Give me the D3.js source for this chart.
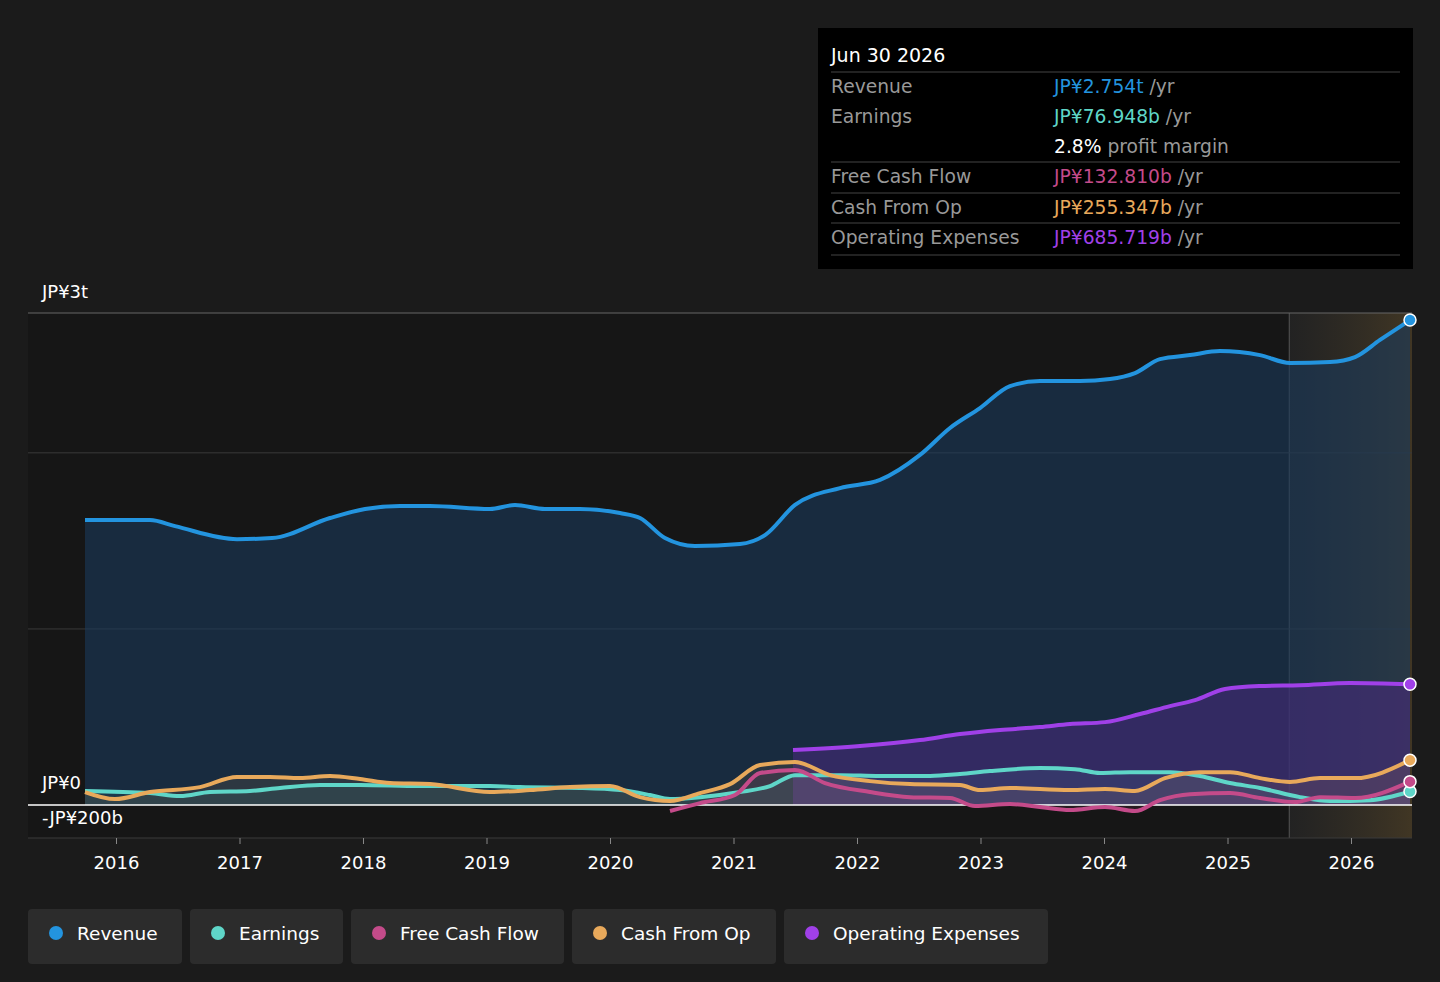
<!DOCTYPE html>
<html><head><meta charset="utf-8">
<script src="https://cdn.jsdelivr.net/npm/d3@7"></script>
<style>body{margin:0;background:#1b1b1b;font-family:"DejaVu Sans",sans-serif}</style>
</head><body><svg id="c" width="1440" height="982"></svg>
<script>
const revenue=[[85,1618],[150,1618],[175,1584],[237,1510],[272,1516],[330,1630],[365,1681],[400,1698],[430,1698],[490,1681],[515,1704],[545,1681],[580,1681],[620,1658],[640,1630],[665,1516],[695,1471],[740,1482],[765,1533],[795,1704],[840,1800],[880,1846],[920,1988],[950,2141],[980,2254],[1010,2379],[1040,2408],[1080,2408],[1110,2419],[1135,2453],[1160,2532],[1190,2555],[1220,2578],[1260,2555],[1290,2510],[1330,2516],[1355,2544],[1380,2641],[1410,2754]];
const earnings=[[85,80],[150,68],[180,51],[210,74],[250,80],[280,97],[320,114],[360,114],[420,108],[490,108],[520,102],[580,97],[620,85],[650,57],[670,34],[700,45],[740,74],[770,108],[795,170],[840,170],[880,165],[930,165],[960,176],[990,193],[1040,210],[1075,204],[1100,182],[1130,187],[1170,187],[1200,165],[1230,125],[1260,97],[1300,45],[1330,23],[1370,28],[1410,77]];
const fcf=[[670,-34],[700,11],[735,57],[760,182],[795,199],[825,125],[870,74],[910,45],[950,40],[975,-6],[1010,6],[1040,-11],[1070,-28],[1105,-11],[1135,-34],[1160,28],[1190,62],[1230,68],[1260,40],[1295,17],[1320,45],[1355,40],[1410,133]];
const cfo=[[85,74],[115,34],[150,74],[200,102],[237,159],[270,159],[300,153],[330,165],[360,148],[390,125],[430,119],[490,74],[530,85],[570,102],[610,108],[640,45],[670,23],[700,68],[730,119],[760,227],[795,244],[830,170],[870,136],[910,119],[960,114],[980,85],[1010,97],[1070,85],[1105,91],[1135,80],[1165,153],[1200,187],[1230,187],[1260,153],[1290,131],[1320,153],[1355,153],[1410,255]];
const opex=[[793,312],[860,335],[920,369],[960,403],[1000,426],[1040,443],[1070,460],[1105,471],[1140,517],[1170,562],[1195,596],[1225,659],[1260,676],[1300,681],[1350,693],[1410,686]];
const years=[2016,2017,2018,2019,2020,2021,2022,2023,2024,2025,2026];
const toYear=p=>2016+(p-116)/123.5;
const svg=d3.select("#c");
const x=d3.scaleLinear().domain([2016,2026]).range([116,1351]);
const y=d3.scaleLinear().domain([-187,2794]).range([838,313]);
const conv=a=>a.map(d=>({t:toYear(d[0]),v:d[1]}));
const line=d3.line().x(d=>x(d.t)).y(d=>y(d.v)).curve(d3.curveMonotoneX);
const area=d3.area().x(d=>x(d.t)).y0(y(0)).y1(d=>y(d.v)).curve(d3.curveMonotoneX);
const fStart=2025.5;
svg.append("rect").attr("x",28).attr("y",313).attr("width",x(fStart)-28).attr("height",525).attr("fill","#161616");
const defs=svg.append("defs");
const g=defs.append("linearGradient").attr("id","fg");
g.append("stop").attr("offset","0").attr("stop-color","#2a2a2a").attr("stop-opacity",0.5);
g.append("stop").attr("offset","1").attr("stop-color","#4a3d26").attr("stop-opacity",0.8);
svg.append("rect").attr("x",x(fStart)).attr("y",313).attr("width",1412-x(fStart)).attr("height",525).attr("fill","url(#fg)");
svg.append("line").attr("x1",x(fStart)).attr("x2",x(fStart)).attr("y1",313).attr("y2",838).attr("stroke","#555");
[2794,2000,1000,-187].forEach(v=>svg.append("line").attr("x1",28).attr("x2",1412).attr("y1",y(v)).attr("y2",y(v)).attr("stroke",v==2794?"#666":"#3a3a3a"));
const series=[
 {d:revenue,c:"#2394df",fill:"#1a3a5c",fo:0.6},
 {d:opex,c:"#a040e8",fill:"#4b2a80",fo:0.55},
 {d:cfo,c:"#e8a95b",fill:"#e8a95b",fo:0.1},
 {d:fcf,c:"#c44b8a",fill:"#c44b8a",fo:0.1},
 {d:earnings,c:"#5fd6c8",fill:"#5fd6c8",fo:0.08}];
series.forEach(s=>{const dd=conv(s.d);
 svg.append("path").attr("d",area(dd)).attr("fill",s.fill).attr("fill-opacity",s.fo);});
svg.append("line").attr("x1",28).attr("x2",1412).attr("y1",y(0)).attr("y2",y(0)).attr("stroke","#fff").attr("stroke-width",1.5);
series.slice().reverse().forEach(s=>{const dd=conv(s.d);
 svg.append("path").attr("d",line(dd)).attr("fill","none").attr("stroke",s.c).attr("stroke-width",4);
 const l=dd[dd.length-1];
 svg.append("circle").attr("cx",x(l.t)).attr("cy",y(l.v)).attr("r",6).attr("fill",s.c).attr("stroke","#fff").attr("stroke-width",1.5);});
const t=(tx,xx,yy,o={})=>svg.append("text").attr("x",xx).attr("y",yy).text(tx).attr("fill",o.c||"#fff").attr("font-size",o.s||18).attr("text-anchor",o.a||"start");
t("JP¥3t",42,298);t("JP¥0",42,789);t("-JP¥200b",42,824);
const ax=svg.append("g").attr("transform","translate(0,838)").call(d3.axisBottom(x).tickValues(years).tickFormat(d3.format("d")).tickSize(6));
ax.select(".domain").remove();
ax.selectAll("line").attr("stroke","#888");
ax.selectAll("text").attr("fill","#fff").attr("font-size",18).attr("font-family","DejaVu Sans").attr("dy","1.2em");
svg.append("rect").attr("x",818).attr("y",28).attr("width",595).attr("height",241).attr("fill","#000");
t("Jun 30 2026",831,62,{s:19});
const rows=[["Revenue","JP¥2.754t","#2394df",87],["Earnings","JP¥76.948b","#5fd6c8",117],["","",null,147],["Free Cash Flow","JP¥132.810b","#c44b8a",177],["Cash From Op","JP¥255.347b","#e8a95b",208],["Operating Expenses","JP¥685.719b","#a040e8",238]];
[72,162,193,223,255].forEach(yy=>svg.append("line").attr("x1",831).attr("x2",1400).attr("y1",yy).attr("y2",yy).attr("stroke","#444"));
rows.forEach(r=>{
 if(r[2]){t(r[0],831,r[3]+6,{c:"#999",s:18.7});
 const tx=svg.append("text").attr("x",1054).attr("y",r[3]+6).attr("font-size",18.7);
 tx.append("tspan").text(r[1]).attr("fill",r[2]);tx.append("tspan").text(" /yr").attr("fill","#999");}
 else{const tx=svg.append("text").attr("x",1054).attr("y",r[3]+6).attr("font-size",18.7);
 tx.append("tspan").text("2.8%").attr("fill","#fff");tx.append("tspan").text(" profit margin").attr("fill","#999");}
});
const leg=[["Revenue","#2394df",28,154],["Earnings","#5fd6c8",190,153],["Free Cash Flow","#c44b8a",351,213],["Cash From Op","#e8a95b",572,204],["Operating Expenses","#a040e8",784,264]];
leg.forEach(l=>{svg.append("rect").attr("x",l[2]).attr("y",909).attr("width",l[3]).attr("height",55).attr("rx",4).attr("fill","#2c2c2c");
 svg.append("circle").attr("cx",l[2]+28).attr("cy",933).attr("r",7).attr("fill",l[1]);
 t(l[0],l[2]+49,940,{s:18.5});});
</script></body></html>
